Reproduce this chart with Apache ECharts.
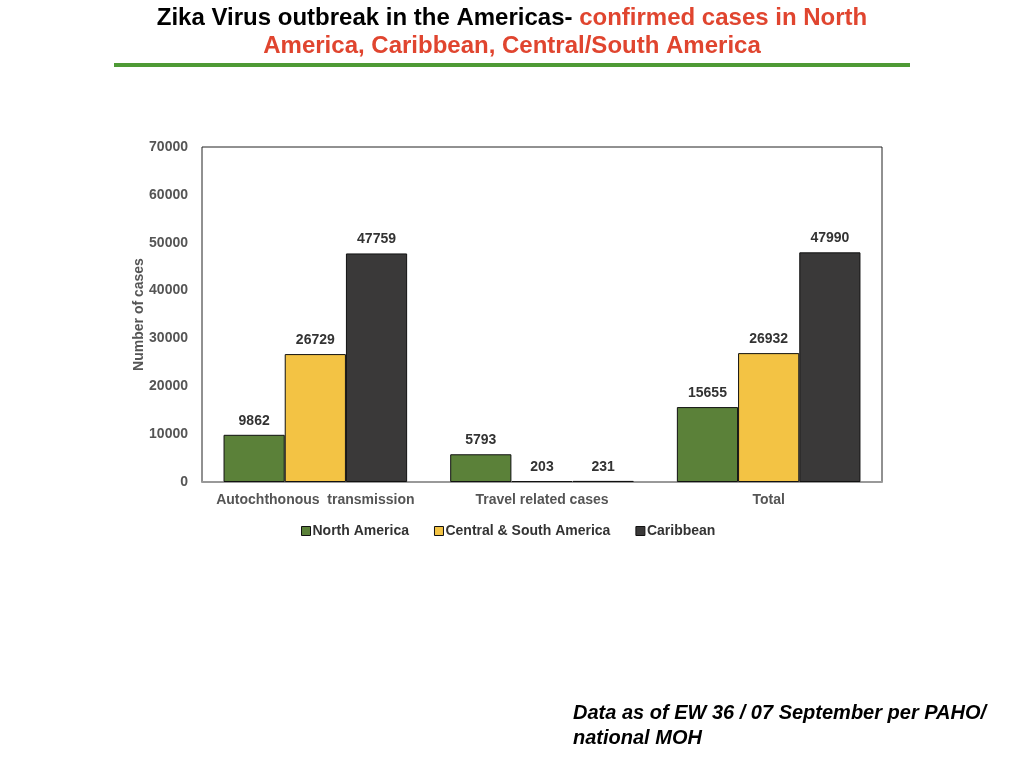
<!DOCTYPE html>
<html>
<head>
<meta charset="utf-8">
<script src="https://cdn.jsdelivr.net/npm/echarts@6/dist/echarts.min.js"></script>
<style>
  html, body { margin: 0; padding: 0; background: #fff; }
  #main { width: 1024px; height: 768px; }
</style>
</head>
<body>
<div id="main"></div>
<script>
var categories = ['Autochthonous  transmission', 'Travel related cases', 'Total'];
var northAmerica = [9862, 5793, 15655];
var centralSouth = [26729, 203, 26932];
var caribbean = [47759, 231, 47990];
var seriesNames = ['North America', 'Central & South America', 'Caribbean'];
var colors = ['#5b8139', '#f3c344', '#3a3939'];

var myChart = echarts.init(document.getElementById('main'));

var labelStyle = {
    show: true,
    position: 'top',
    distance: 7,
    color: '#333',
    fontFamily: 'Liberation Sans',
    fontWeight: 'bold',
    fontSize: 14
};

function makeSeries(i, data) {
    return {
        name: seriesNames[i],
        type: 'bar',
        data: data,
        barGap: '0%',
        barCategoryGap: '19%',
        itemStyle: {
            color: colors[i],
            borderColor: '#111',
            borderWidth: 1
        },
        label: labelStyle
    };
}

var option = {
    animation: false,
    graphic: [
        {
            type: 'text',
            x: 512,
            y: 4,
            style: {
                x: 0,
                y: 0,
                align: 'center',
                verticalAlign: 'top',
                lineHeight: 28,
                text: '{a|Zika Virus outbreak in the Americas- }{b|confirmed cases in North}\n{b|America, Caribbean, Central/South America}',
                rich: {
                    a: { fill: '#000', fontFamily: 'Liberation Sans', fontWeight: 'bold', fontSize: 24, lineHeight: 28 },
                    b: { fill: '#e0452f', fontFamily: 'Liberation Sans', fontWeight: 'bold', fontSize: 24, lineHeight: 28 }
                }
            }
        },
        {
            type: 'line',
            shape: { x1: 114, y1: 65, x2: 910, y2: 65 },
            style: { stroke: '#4e9a35', lineWidth: 4 }
        },
        {
            type: 'text',
            left: 573,
            top: 701,
            style: {
                text: 'Data as of EW 36 / 07 September per PAHO/\nnational MOH',
                fill: '#000',
                font: 'italic bold 20px "Liberation Sans"',
                lineHeight: 25
            }
        }
    ],
    legend: {
        top: 519,
        left: 296,
        itemWidth: 9,
        itemHeight: 9,
        itemGap: 25,
        icon: 'rect',
        textStyle: {
            color: '#333',
            fontFamily: 'Liberation Sans',
            fontWeight: 'bold',
            fontSize: 14,
            padding: [0, 0, 0, -3]
        },
        data: seriesNames.map(function (n, i) {
            return { name: n, itemStyle: { borderColor: '#111', borderWidth: 1 } };
        })
    },
    grid: {
        left: 202,
        right: 142,
        top: 147,
        bottom: 286,
        show: true,
        borderColor: '#222',
        borderWidth: 1
    },
    xAxis: {
        type: 'category',
        data: categories,
        axisLine: { lineStyle: { color: '#999', width: 2 } },
        axisTick: { show: false },
        axisLabel: {
            interval: 0,
            color: '#555',
            fontFamily: 'Liberation Sans',
            fontWeight: 'bold',
            fontSize: 14,
            margin: 11
        }
    },
    yAxis: {
        type: 'value',
        min: 0,
        max: 70000,
        interval: 10000,
        name: 'Number of cases',
        nameLocation: 'middle',
        nameGap: 56,
        nameMoveOverlap: false,
        nameTextStyle: {
            color: '#555',
            fontFamily: 'Liberation Sans',
            fontWeight: 'bold',
            fontSize: 14
        },
        axisLine: { show: false },
        axisTick: { show: false },
        splitLine: { show: false },
        axisLabel: {
            formatter: function (v) { return String(v); },
            color: '#555',
            fontFamily: 'Liberation Sans',
            fontWeight: 'bold',
            fontSize: 14,
            margin: 14
        }
    },
    series: [
        makeSeries(0, northAmerica),
        makeSeries(1, centralSouth),
        makeSeries(2, caribbean)
    ]
};

myChart.setOption(option);
</script>
</body>
</html>
